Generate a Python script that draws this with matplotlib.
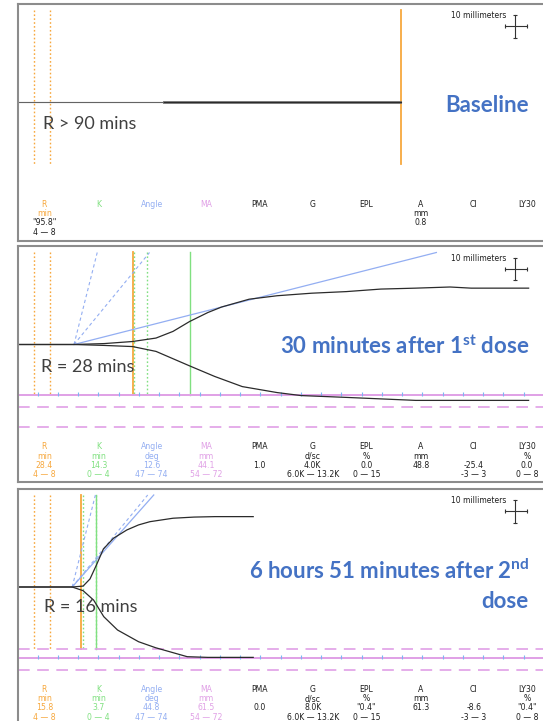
import matplotlib.pyplot as plt
import numpy as np

plt.rcParams['mathtext.fontset'] = 'custom'
plt.rcParams['mathtext.rm'] = 'Lato'
plt.rcParams['mathtext.bf'] = 'Lato:bold'

W, H = 543, 721
PX_MIN = 4.05      # pixels per minute on the TEG time axis
PX_MM = 2.3        # pixels per mm of amplitude
LEFT, RIGHT = 17.5, 560
BASE_OFF = 98      # baseline sits this far below each panel top (px)

ORANGE = '#F7A83E'
GREEN = '#80E080'
BLUE = '#93AEF2'
PINK = '#E0A0E6'
TICKBLUE = '#7DB6F2'
TITLE = '#4472C4'
INK = '#1e1e1e'

# panel boxes (px from top of page)
panel_top = [4, 246.5, 489]
panel_bottom = [240.5, 481.7, 724.5]

# ---- traces: time (min) vs half amplitude (mm)
base_t = [0, 35.9, 94.8]
base_half = [0.0, 0.3, 0.3]

dose1_up_t = [0, 13.95, 21.4, 28.4, 34.2, 38.4, 42.5, 47.0, 50.4, 57.2, 64.1, 72.6, 81.2, 89.7, 98.3, 106.8, 112.0, 126.2]
dose1_up_mm = [0, 0, 0.4, 1.3, 2.8, 5.7, 10.0, 13.9, 16.3, 19.7, 21.2, 22.3, 23.0, 24.1, 24.5, 25.0, 24.5, 24.5]
dose1_lo_t = [0, 13.95, 21.4, 28.4, 34.2, 42.5, 48.7, 55.5, 64.1, 70.0, 81.2, 98.3, 126.2]
dose1_lo_mm = [0, 0, 0.4, 0.9, 3.0, 9.3, 13.9, 18.3, 20.9, 22.2, 23.0, 24.3, 24.3]

dose2_up_t = [0, 13.5, 16.2, 17.9, 19.5, 21.2, 23.7, 27.0, 29.9, 32.7, 38.4, 43.6, 48.8, 58.2]
dose2_up_mm = [0, 0, 0.4, 3.5, 9.6, 16.5, 21.2, 24.8, 27.0, 28.4, 29.9, 30.4, 30.6, 30.6]
dose2_lo_t = [0, 13.5, 16.2, 18.8, 21.3, 24.7, 29.9, 34.1, 41.9, 47.0, 58.2]
dose2_lo_mm = [0, 0, 1.6, 5.7, 12.9, 18.7, 23.8, 26.4, 30.3, 30.6, 30.6]

# ---- markers per panel (baseline, 30 min, 6h51)
r_line = [94.8, 28.4, 15.8]
k_line = [None, 42.7, 19.5]
k_range_off = [0.4, 3.5]
angle_val = [None, 12.6, 44.8]
angle_start = [None, 13.95, 13.5]
ma_val = [None, 44.1, 61.5]
R_NORMAL = [4, 8]
ANGLE_NORMAL = [47, 74]
MA_NORMAL = [54, 72]
LINE_TOP = 40      # mm

# ---- parameter table
names = ['R', 'K', 'Angle', 'MA', 'PMA', 'G', 'EPL', 'A', 'CI', 'LY30']
units = ['min', 'min', 'deg', 'mm', '', 'd/sc', '%', 'mm', '', '%']
ranges = ['4 — 8', '0 — 4', '47 — 74', '54 — 72', '', '6.0K — 13.2K', '0 — 15', '', '-3 — 3', '0 — 8']
base_units = ['min', '', '', '', '', '', '', 'mm', '', '']
base_ranges = ['4 — 8', '', '', '', '', '', '', '', '', '']
base_vals = ['"95.8"', '', '', '', '', '', '', '0.8', '', '']
dose1_vals = ['28.4', '14.3', '12.6', '44.1', '1.0', '4.0K', '0.0', '48.8', '-25.4', '0.0']
dose2_vals = ['15.8', '3.7', '44.8', '61.5', '0.0', '8.0K', '"0.4"', '61.3', '-8.6', '"0.4"']
col_colors = [ORANGE, GREEN, BLUE, PINK, INK, INK, INK, INK, INK, INK]
col_x = [44.3, 98.7, 151.7, 206, 259.7, 312.7, 366.3, 420.7, 473.7, 527]
row_off = [200.5, 209.7, 218.9, 228.0]

fig = plt.figure(figsize=(W / 100, H / 100), dpi=100)


def ftext(x, y, s, **kw):
    fig.text(x / W, 1 - y / H, s, **kw)


def make_panel(top, bottom):
    ax = fig.add_axes([LEFT / W, 1 - bottom / H, (RIGHT - LEFT) / W, (bottom - top) / H])
    ax.set_xlim(0, (RIGHT - LEFT) / PX_MIN)
    ax.set_ylim(-(bottom - top - BASE_OFF) / PX_MM, BASE_OFF / PX_MM)
    ax.set_xticks([])
    ax.set_yticks([])
    for s in ax.spines.values():
        s.set_color('#8c8c8c')
        s.set_linewidth(1.5)
    return ax


def scale_cross(ax, top):
    ax.plot([122.9, 122.9], [37.8, 28.0], color='#333', lw=0.8)
    ax.plot([120.4, 125.7], [32.9, 32.9], color='#333', lw=0.8)
    ax.plot([122.9, 122.9], [37.8, 28.0], '_', color='#333', ms=2.5, mew=0.8)
    ax.plot([120.4, 125.7], [32.9, 32.9], '|', color='#333', ms=2.5, mew=0.8)
    ftext(506.5, top + 11.7, '10 millimeters', ha='right', va='center', fontsize=5.5, color=INK)


def table(top, vals, unit_row, range_row, plain_r=False):
    for i, n in enumerate(names):
        c = col_colors[i]
        rows = [n, unit_row[i], vals[i], range_row[i]]
        for j, s in enumerate(rows):
            if not s:
                continue
            cc = c
            if plain_r and j >= 2:
                cc = INK
            ftext(col_x[i], top + row_off[j], s, ha='center', va='center', fontsize=5.6, color=cc)


def ref_lines(ax, i):
    bottom = -min(ma_val[i] or MA_NORMAL[0], MA_NORMAL[0]) / 2
    for r in R_NORMAL:
        ax.plot([r, r], [LINE_TOP, bottom], color=ORANGE, lw=1.0, ls=(0, (1.2, 1.6)))
    ax.plot([r_line[i], r_line[i]], [LINE_TOP, bottom], color=ORANGE, lw=1.3)
    if k_line[i] is not None:
        for k in k_range_off:
            ax.plot([r_line[i] + k] * 2, [LINE_TOP, bottom], color=GREEN, lw=1.0, ls=(0, (1.2, 1.6)))
        ax.plot([k_line[i]] * 2, [LINE_TOP, bottom], color=GREEN, lw=1.0)
    if angle_val[i] is not None:
        t0 = angle_start[i]
        for a in ANGLE_NORMAL:
            dt = LINE_TOP / (2.0 * np.tan(np.radians(a)))
            ax.plot([t0, t0 + dt], [0, LINE_TOP], color=BLUE, lw=0.8, ls=(0, (3, 2.5)))
        dt = LINE_TOP / (2.0 * np.tan(np.radians(angle_val[i])))
        ax.plot([t0, t0 + dt], [0, LINE_TOP], color=BLUE, lw=0.9)
    if ma_val[i] is not None:
        x0, x1 = ax.get_xlim()
        for m in MA_NORMAL:
            ax.plot([x0, x1], [-m / 2, -m / 2], color=PINK, lw=1.2, ls=(0, (7, 4.5)))
        ax.plot([x0, x1], [-ma_val[i] / 2] * 2, color=PINK, lw=1.4)
        ticks = np.arange(5, 135, 5)
        ax.plot(ticks, [-ma_val[i] / 2 + 0.4] * len(ticks), '|', color=TICKBLUE, ms=2.2, mew=0.8)


TRACE = '#2b2b2b'
TITLE_SIZE = 16

# ---------------- panel 1: baseline
ax1 = make_panel(panel_top[0], panel_bottom[0])
ref_lines(ax1, 0)
ax1.plot([0, base_t[-1]], [0, 0], color=TRACE, lw=0.8)
ax1.step(base_t, base_half, where='post', color='#666', lw=0.6)
ax1.step(base_t, [-v for v in base_half], where='post', color='#666', lw=0.6)
scale_cross(ax1, panel_top[0])
table(panel_top[0], base_vals, base_units, base_ranges, plain_r=True)
ftext(43.3, 129.3, 'R > 90 mins', ha='left', va='baseline', fontsize=13, family='Lato', color='#404040')
ftext(529, 112.5, 'Baseline', ha='right', va='baseline', fontsize=TITLE_SIZE, family='Lato',
      weight='bold', color=TITLE)

# ---------------- panel 2: 30 minutes after 1st dose
ax2 = make_panel(panel_top[1], panel_bottom[1])
ref_lines(ax2, 1)
ax2.plot(dose1_up_t, dose1_up_mm, color=TRACE, lw=0.9)
ax2.plot(dose1_lo_t, [-v for v in dose1_lo_mm], color=TRACE, lw=0.9)
scale_cross(ax2, panel_top[1])
table(panel_top[1], dose1_vals, units, ranges)
ftext(40.9, 371.7, 'R = 28 mins', ha='left', va='baseline', fontsize=13, family='Lato', color='#404040')
ftext(529, 354, r'30 minutes after 1$^{\mathbf{st}}$ dose', ha='right', va='baseline',
      fontsize=TITLE_SIZE, family='Lato', weight='bold', color=TITLE)

# ---------------- panel 3: 6 h 51 min after 2nd dose
ax3 = make_panel(panel_top[2], panel_bottom[2])
ref_lines(ax3, 2)
ax3.plot(dose2_up_t, dose2_up_mm, color=TRACE, lw=0.9)
ax3.plot(dose2_lo_t, [-v for v in dose2_lo_mm], color=TRACE, lw=0.9)
scale_cross(ax3, panel_top[2])
table(panel_top[2], dose2_vals, units, ranges)
ftext(44, 611.7, 'R = 16 mins', ha='left', va='baseline', fontsize=13, family='Lato', color='#404040')
ftext(529, 579.3, r'6 hours 51 minutes after 2$^{\mathbf{nd}}$', ha='right', va='baseline',
      fontsize=TITLE_SIZE, family='Lato', weight='bold', color=TITLE)
ftext(529, 607.7, 'dose', ha='right', va='baseline', fontsize=TITLE_SIZE, family='Lato',
      weight='bold', color=TITLE)

fig.savefig('out.png', dpi=100)
